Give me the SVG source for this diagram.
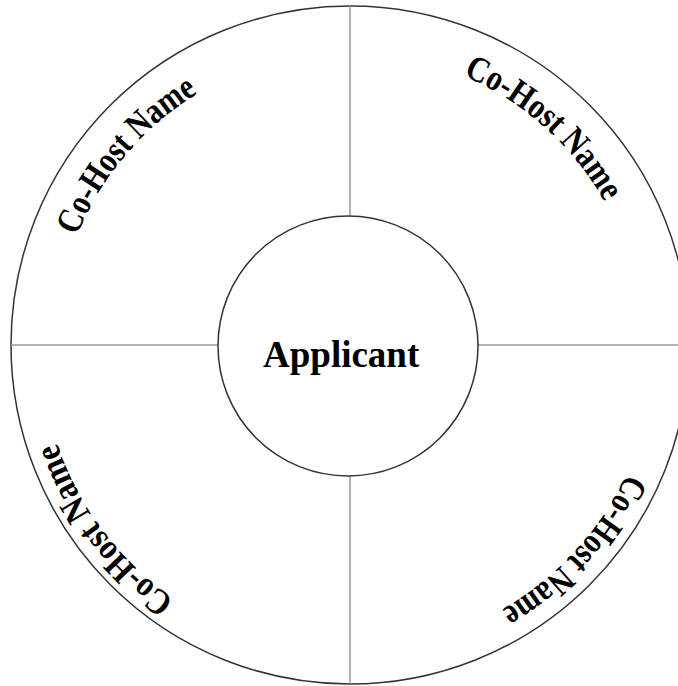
<svg xmlns="http://www.w3.org/2000/svg" xmlns:xlink="http://www.w3.org/1999/xlink" width="678" height="686" viewBox="0 0 678 686">
<style>
.lbl{font-family:"Liberation Serif","Times New Roman",serif;font-weight:bold;fill:#000}
.arc{font-size:36px}
.div{stroke:#9a9a9a;stroke-width:1.5;fill:none}
</style>
<defs>
<path id="pTL" d="M77.0,235.8 A294,294 0 0 1 308.1,54.0" fill="none"/>
<path id="pTR" d="M463.2,75.8 A292,292 0 0 1 639.7,308.4" fill="none"/>
<path id="pBR" d="M626.6,473.4 A305,305 0 0 1 377.1,648.8" fill="none"/>
<path id="pBL" d="M174.6,599.3 A309,309 0 0 1 42.0,320.2" fill="none"/>
</defs>
<rect width="678" height="686" fill="#fff"/>
<g id="outer">
<circle cx="350" cy="345" r="339" fill="#fff" stroke="#333" stroke-width="1.5"/>
</g>
<g id="connectors">
<line class="div" x1="350" y1="6" x2="350" y2="216"/>
<line class="div" x1="350" y1="476" x2="350" y2="684"/>
<line class="div" x1="11" y1="345" x2="218" y2="345"/>
<line class="div" x1="478" y1="345" x2="678" y2="345"/>
</g>
<g id="applicant">
<circle cx="348" cy="346" r="130" fill="#fff" stroke="#333" stroke-width="1.5"/>
<text class="lbl" x="263" y="367" font-size="37">Applicant</text>
</g>
<g id="cohost-tl"><text class="lbl arc"><textPath xlink:href="#pTL" textLength="190" lengthAdjust="spacingAndGlyphs">Co-Host Name</textPath></text></g>
<g id="cohost-tr"><text class="lbl arc"><textPath xlink:href="#pTR" textLength="193" lengthAdjust="spacingAndGlyphs">Co-Host Name</textPath></text></g>
<g id="cohost-br"><text class="lbl arc"><textPath xlink:href="#pBR" textLength="188" lengthAdjust="spacingAndGlyphs">Co-Host Name</textPath></text></g>
<g id="cohost-bl"><text class="lbl arc"><textPath xlink:href="#pBL" textLength="199" lengthAdjust="spacingAndGlyphs">Co-Host Name</textPath></text></g>
</svg>
